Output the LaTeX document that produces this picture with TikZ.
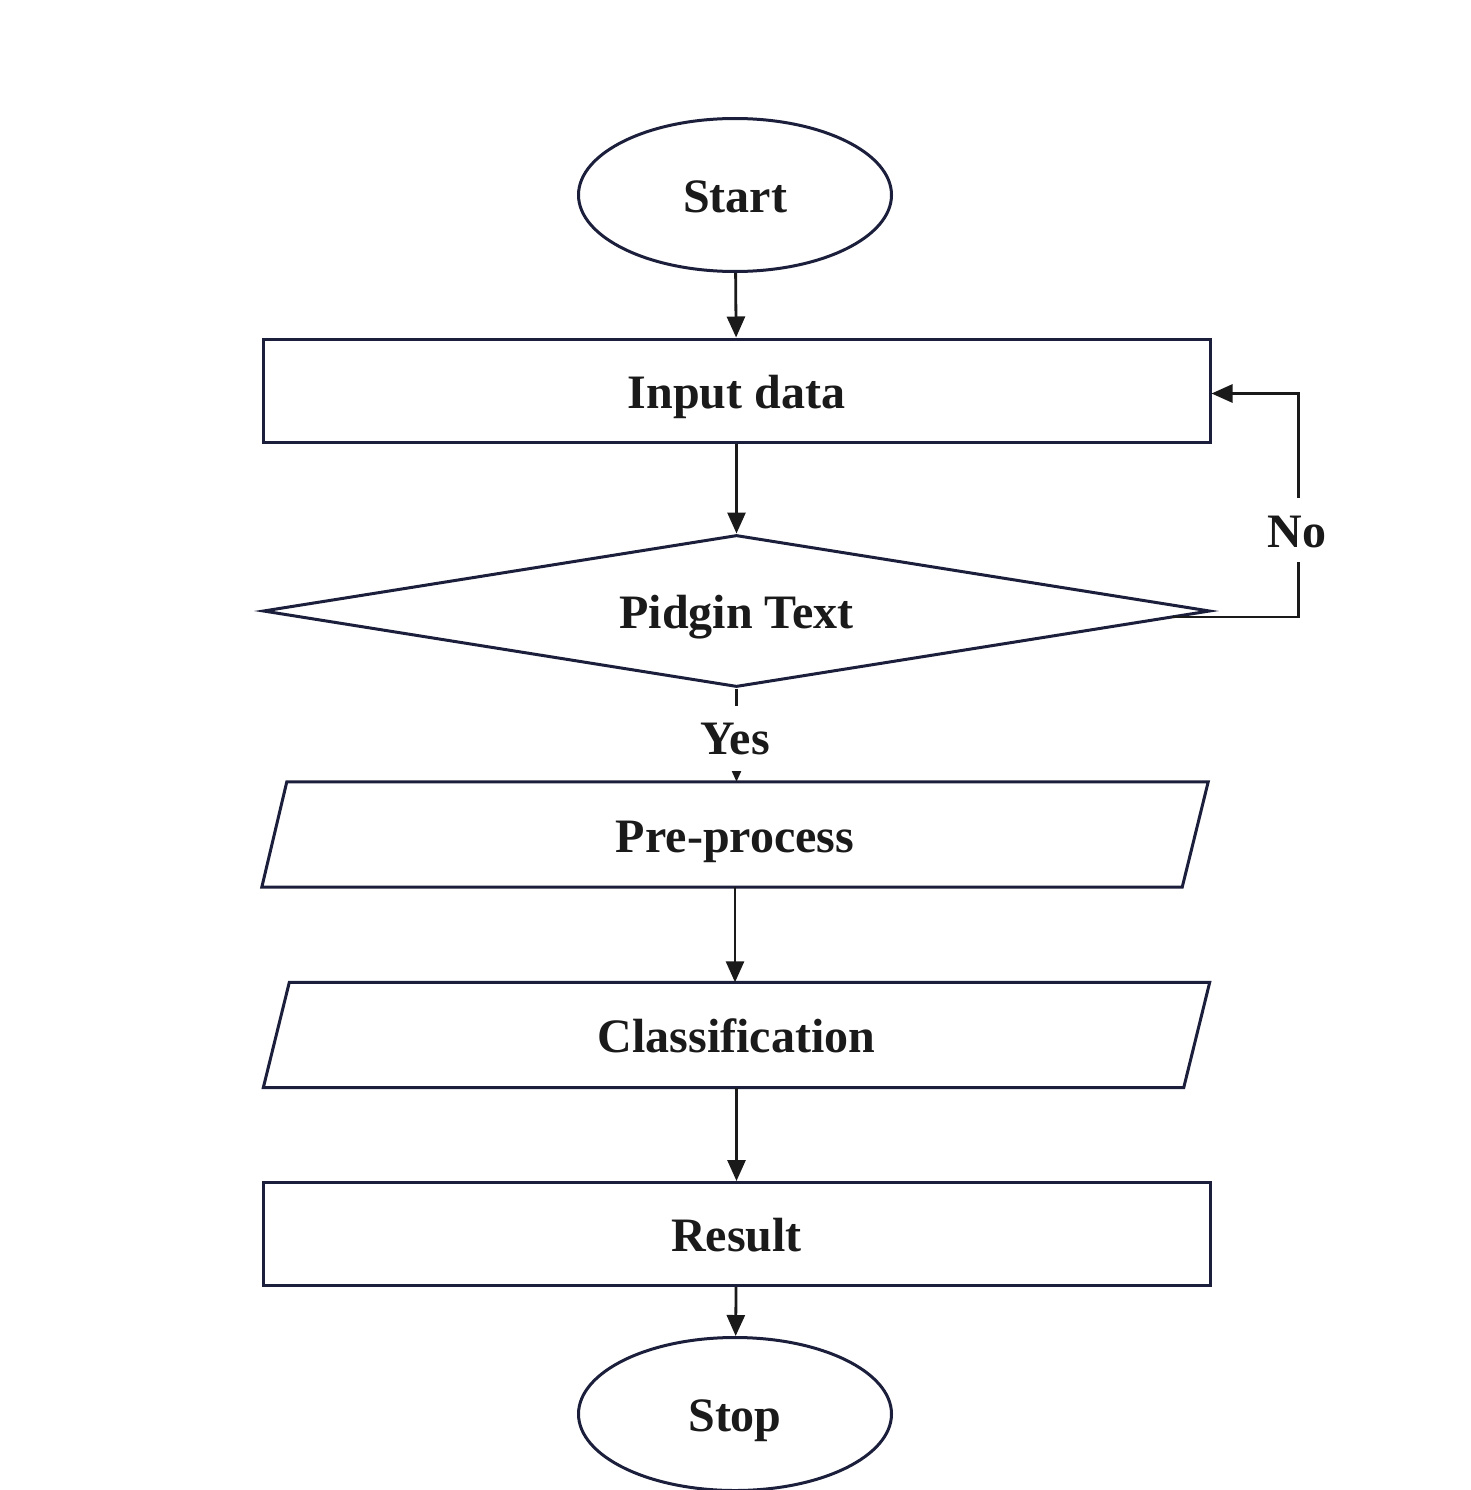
\documentclass[tikz,border=0pt]{standalone}
\usepackage{fontspec}
\setmainfont{Liberation Serif}
\usetikzlibrary{shapes.geometric,arrows.meta,calc}
\definecolor{navy}{HTML}{1B1F3B}
\definecolor{ink}{HTML}{1A1A1A}
\begin{document}
\begin{tikzpicture}[x=1pt,y=-1pt,
  shapeline/.style={draw=navy,line width=3pt},
  lbl/.style={font=\fontsize{48}{58}\selectfont\bfseries,text=ink,text height=35pt,text depth=0pt},
  arr/.style={draw=ink,line width=2.8pt,-{Triangle[length=21pt,width=18pt]}},
  term/.style={shapeline,ellipse,minimum width=313pt,minimum height=153pt,inner sep=0pt,lbl},
  procbox/.style={shapeline,rectangle,minimum width=947pt,minimum height=103pt,inner sep=0pt,lbl},
  parabox/.style={rectangle,minimum width=946pt,minimum height=105pt,inner sep=0pt,lbl},
  decide/.style={shapeline,diamond,aspect=6.2,minimum width=947pt,minimum height=152pt,inner sep=0pt,lbl},
  tag/.style={lbl,fill=white,inner xsep=4pt,inner ysep=0pt}
]
\useasboundingbox (0,0) rectangle (1470,1490);
\node[term] (start) at (735,195) {Start};
\node[procbox] (inp) at (736.5,390.5) {Input data};
\node[decide] (dia) at (736.5,611) {Pidgin Text};
\node[parabox] (pre) at (735,834.5) {Pre-process};
\draw[shapeline] ($(pre.north west)+(25,0)$) -- (pre.north east) -- ($(pre.south east)+(-26,0)$) -- (pre.south west) -- cycle;
\node[parabox] (cls) at (736.5,1035) {Classification};
\draw[shapeline] ($(cls.north west)+(26,0)$) -- (cls.north east) -- ($(cls.south east)+(-26,0)$) -- (cls.south west) -- cycle;
\node[procbox] (res) at (736.5,1234) {Result};
\node[term] (stop) at (735,1414) {Stop};

\draw[arr] (start) -- (inp);
\draw[arr] (inp) -- (dia);
\draw[arr] (dia.south) -- (dia.south |- pre.north);
\node[tag,minimum height=65pt,text height=33pt] (yes) at (735,738) {Yes};
\draw[arr] (pre.south -| 735,0) -- (cls.north -| 735,0);
\draw[arr] (cls) -- (res);
\draw[arr] (res) -- (stop);
\coordinate (nostart) at ($(dia.east)+(-40,6)$);
\coordinate (noend) at ($(inp.east)+(0,3)$);
\coordinate (noturn) at ($(noend)+(87,0)$);
\draw[arr] (nostart) -| (noturn) -- (noend);
\node[tag,minimum height=64pt] (no) at (1297,529.5) {No};
\end{tikzpicture}
\end{document}
